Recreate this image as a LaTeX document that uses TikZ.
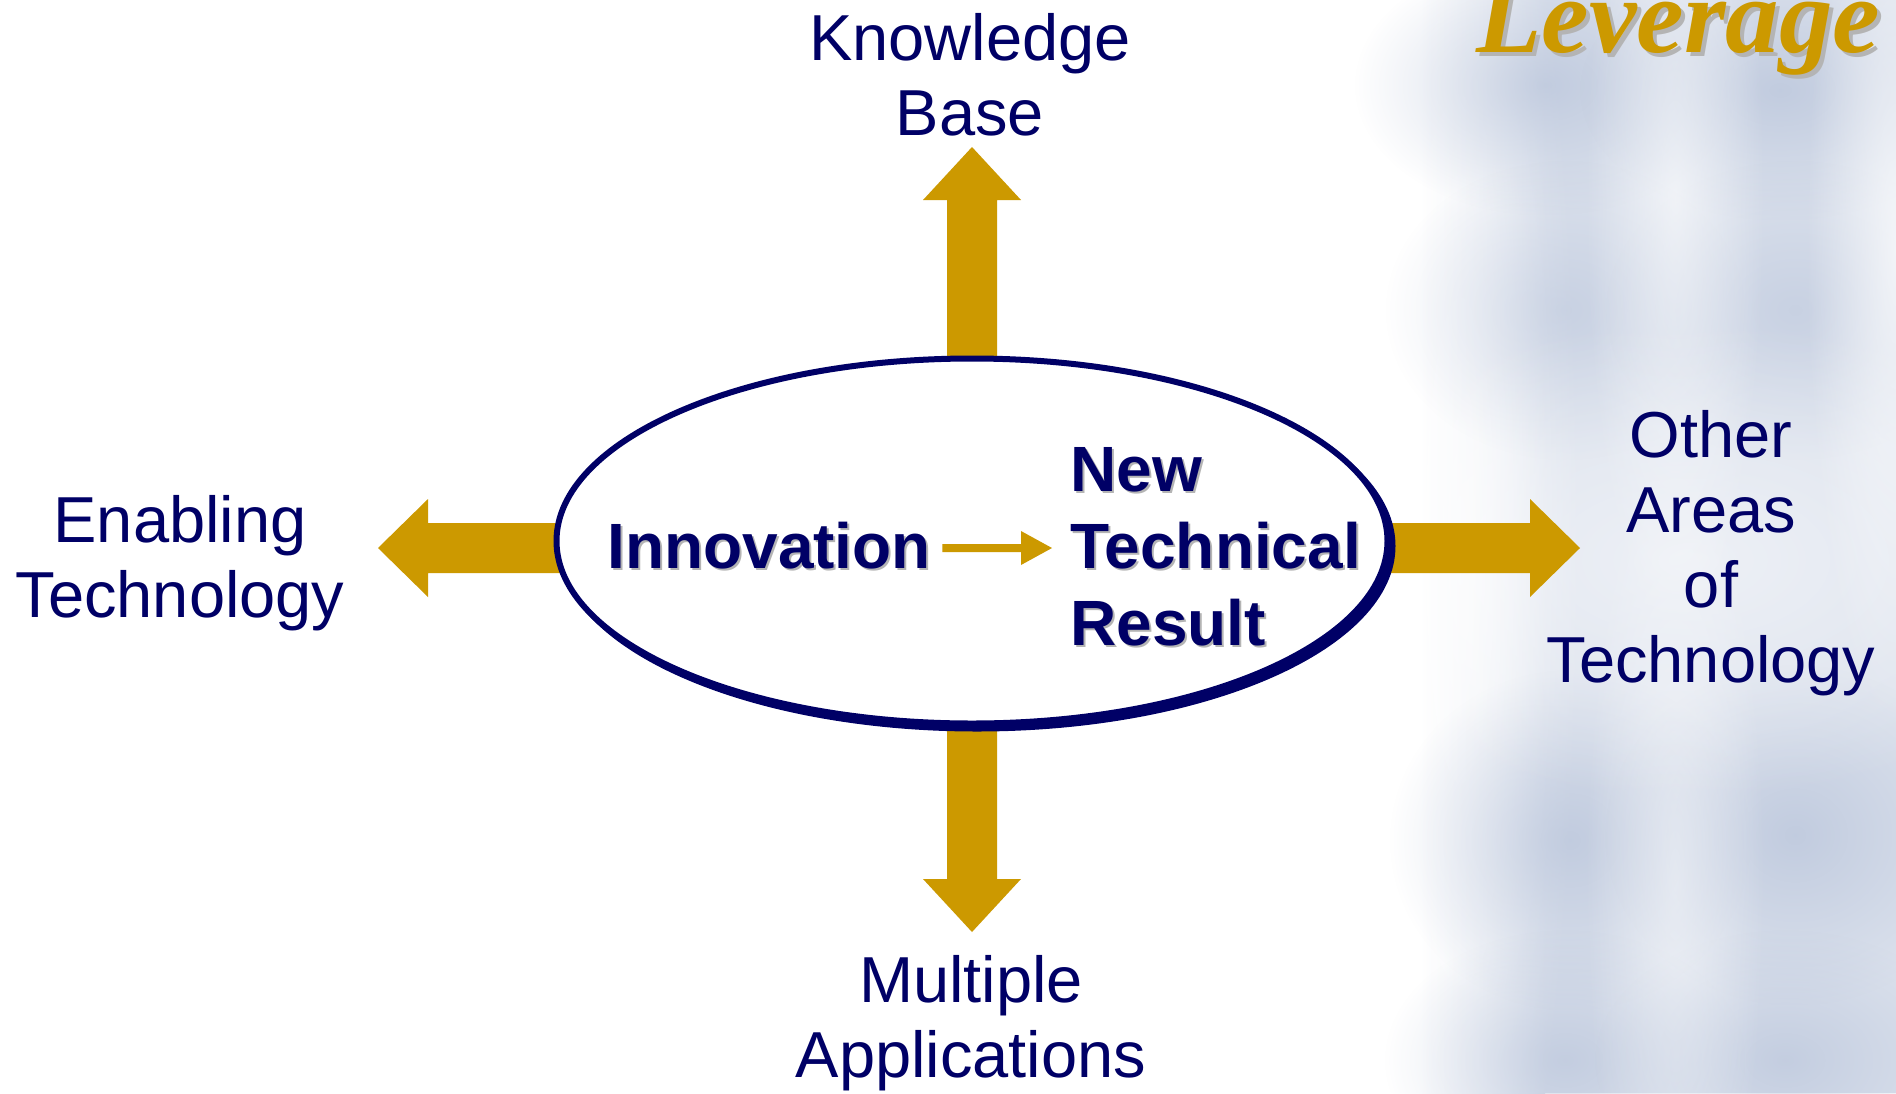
\documentclass[tikz,border=0pt]{standalone}
\usepackage{fontspec}
\setmainfont{Liberation Sans}
\newfontfamily\titlefont{Liberation Serif}
\usetikzlibrary{shapes.geometric,calc,fadings}

\definecolor{navy}{HTML}{000066}
\definecolor{gold}{HTML}{CC9900}
\definecolor{txtshadow}{HTML}{B4B4B4}
\definecolor{tint}{HTML}{DCE2ED}
\definecolor{blobblue}{HTML}{B0BDD6}

\pgfdeclarelayer{background}
\pgfsetlayers{background,main}

% soft round spot used for the cloudy backdrop
\tikzfading[name=blobfade, inner color=transparent!0, outer color=transparent!100]

% text with a grey drop shadow behind it
\newcommand\shadowed[2][1pt]{%
  \makebox[0pt][l]{\hspace{#1}\raisebox{-#1}{\textcolor{txtshadow}{#2}}}#2}

% blurred spot: centre x, centre y, half width, half height, opacity
\newcommand\cloudspot[6][blobblue]{%
  \fill[#1, opacity=#6, path fading=blobfade]
    (#2-2*#4, #3-2*#5) rectangle (#2+2*#4, #3+2*#5);}

\begin{document}
\begin{tikzpicture}[x=0.5pt, y=-0.5pt,
  label/.style={text=navy, inner sep=0pt, align=center,
    font=\fontsize{32.5pt}{37.5pt}\selectfont},
  boldlabel/.style={text=navy, inner sep=0pt,
    font=\bfseries\fontsize{32pt}{38.5pt}\selectfont},
  titletext/.style={text=gold, inner sep=0pt,
    font=\titlefont\bfseries\itshape\fontsize{53.5pt}{60pt}\selectfont},
  blockarrow/.style={fill=gold},
  oval/.style={ellipse, draw=navy, line width=3pt, fill=white, inner sep=0pt,
    minimum width=415.5pt, minimum height=182.5pt}]

\useasboundingbox (0,0) rectangle (1896,1093);

% central oval
\node[oval] (oval) at (972,541) {};

% texts (multi-line nodes are placed by the baseline of their last line)
\node[boldlabel, anchor=base west] (innov) at (607,568) {\shadowed{Innovation}};
\node[boldlabel, anchor=base west, align=left] (ntr) at (1070,645)
  {\shadowed{New}\\\shadowed{Technical}\\\shadowed{Result}};
\node[label, anchor=base] (kb) at (970,135) {Knowledge\\Base};
\node[label, anchor=base] (et) at (180,617) {Enabling\\Technology};
\node[label, anchor=base] (oa) at (1711,682) {Other\\Areas\\of\\Technology};
\node[label, anchor=base] (ma) at (971,1077) {Multiple\\Applications};
\node[titletext, anchor=base west] (lev) at (1476,52) {\shadowed[2pt]{Leverage}};

% arrow tips
\coordinate (kbtip) at (oval.north |- 0,147);
\coordinate (matip) at (oval.south |- 0,932);
\coordinate (ettip) at (378,548);
\coordinate (oatip) at (1580,548);
\coordinate (etbase) at (oval.west |- ettip);
\coordinate (oabase) at (oval.east |- oatip);
\coordinate (sm) at (0,548);
\coordinate (smA) at (innov.east |- sm);
\coordinate (smB) at (ntr.west |- sm);

% arrow from Innovation to the result
\fill[blockarrow] ([xshift=5.5pt,yshift=2pt]smA) -- ([xshift=-24.5pt,yshift=2pt]smB)
  -- ([xshift=-24.5pt,yshift=8.5pt]smB) -- ([xshift=-9pt]smB)
  -- ([xshift=-24.5pt,yshift=-8.5pt]smB) -- ([xshift=-24.5pt,yshift=-2pt]smB)
  -- ([xshift=5.5pt,yshift=-2pt]smA) -- cycle;

\begin{pgfonlayer}{background}
  % cloudy backdrop on the right
  \fill[white] (0,0) rectangle (1896,1093);
  \shade[left color=white, right color=tint] (1420,0) rectangle (1545,1093);
  \fill[tint] (1545,0) rectangle (1896,1093);
  \cloudspot[white]{1460}{540}{60}{420}{0.7}
  \cloudspot{1545}{85}{95}{65}{0.6}
  \cloudspot{1780}{90}{100}{65}{0.6}
  \cloudspot{1565}{310}{90}{75}{0.45}
  \cloudspot{1795}{310}{95}{75}{0.45}
  \cloudspot{1570}{840}{90}{85}{0.6}
  \cloudspot{1795}{835}{95}{85}{0.6}
  \cloudspot{1565}{1060}{90}{65}{0.55}
  \cloudspot{1785}{1060}{95}{65}{0.55}
  \cloudspot[white]{1675}{200}{45}{220}{0.6}
  \cloudspot[white]{1675}{880}{45}{220}{0.5}
  \cloudspot[white]{1690}{560}{220}{120}{0.5}
  \cloudspot[white]{1896}{250}{45}{240}{0.7}

  % block arrows out of the oval
  \fill[blockarrow] ([xshift=-12.5pt,yshift=-10pt]oval.north)
    -- ([xshift=-12.5pt,yshift=-26.5pt]kbtip) -- ([xshift=-24.5pt,yshift=-26.5pt]kbtip)
    -- (kbtip) -- ([xshift=24.5pt,yshift=-26.5pt]kbtip)
    -- ([xshift=12.5pt,yshift=-26.5pt]kbtip) -- ([xshift=12.5pt,yshift=-10pt]oval.north) -- cycle;
  \fill[blockarrow] ([xshift=-12.5pt,yshift=10pt]oval.south)
    -- ([xshift=-12.5pt,yshift=26.5pt]matip) -- ([xshift=-24.5pt,yshift=26.5pt]matip)
    -- (matip) -- ([xshift=24.5pt,yshift=26.5pt]matip)
    -- ([xshift=12.5pt,yshift=26.5pt]matip) -- ([xshift=12.5pt,yshift=10pt]oval.south) -- cycle;
  \fill[blockarrow] ([xshift=15pt,yshift=12.5pt]etbase)
    -- ([xshift=25pt,yshift=12.5pt]ettip) -- ([xshift=25pt,yshift=24.5pt]ettip)
    -- (ettip) -- ([xshift=25pt,yshift=-24.5pt]ettip)
    -- ([xshift=25pt,yshift=-12.5pt]ettip) -- ([xshift=15pt,yshift=-12.5pt]etbase) -- cycle;
  \fill[blockarrow] ([xshift=-15pt,yshift=12.5pt]oabase)
    -- ([xshift=-25pt,yshift=12.5pt]oatip) -- ([xshift=-25pt,yshift=24.5pt]oatip)
    -- (oatip) -- ([xshift=-25pt,yshift=-24.5pt]oatip)
    -- ([xshift=-25pt,yshift=-12.5pt]oatip) -- ([xshift=-15pt,yshift=-12.5pt]oabase) -- cycle;

  % heavier rim at the lower right of the oval
  \fill[navy] ([xshift=2.5pt,yshift=-2.5pt]oval.center)
    ellipse [x radius=209.25pt, y radius=92.75pt];
\end{pgfonlayer}
\end{tikzpicture}
\end{document}
